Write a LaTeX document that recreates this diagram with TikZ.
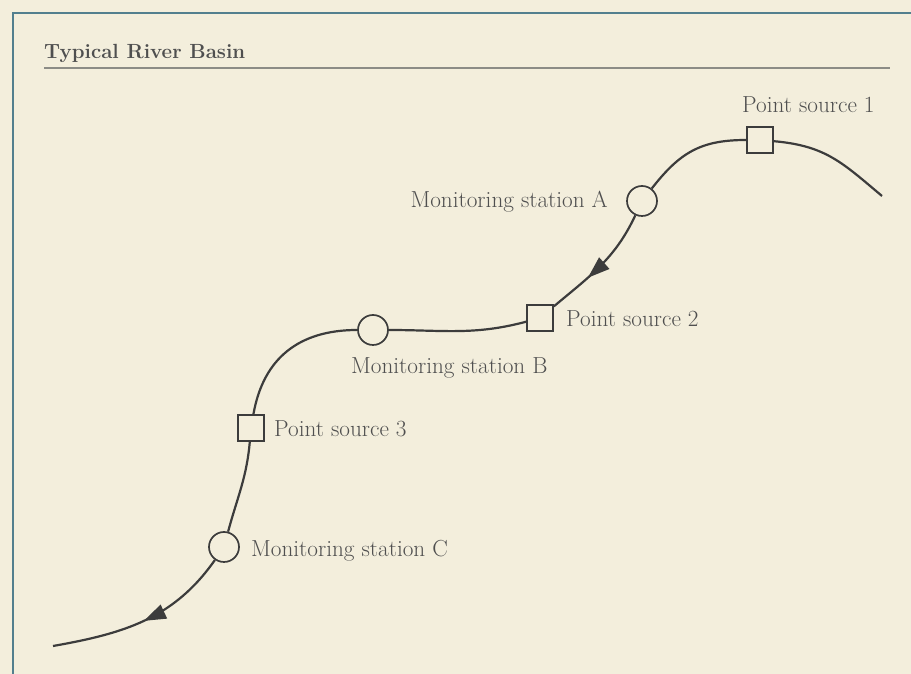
\documentclass[tikz,border=0pt]{standalone}
\usepackage{tikz}
\usetikzlibrary{arrows.meta,decorations.markings}

\definecolor{paper}{HTML}{F3EEDC}
\definecolor{ink}{HTML}{3C3C3C}
\definecolor{labelgray}{HTML}{4F4F4F}
\definecolor{frame}{HTML}{527F8E}
\definecolor{rulegray}{HTML}{8C8C86}

\begin{document}
\begin{tikzpicture}[x=1pt,y=1pt,
	source/.style={shape=rectangle,draw=ink,line width=1.7pt,minimum size=26pt,inner sep=0pt},
	station/.style={shape=circle,draw=ink,line width=1.7pt,minimum size=30pt,inner sep=0pt},
	lbl/.style={text=labelgray,inner sep=0pt,font=\fontsize{23.2}{27}\selectfont},
	river/.style={draw=ink,line width=2.2pt},
	flow/.style={postaction={decorate},decoration={markings,mark=at position #1 with {\arrow{Triangle[length=22pt,width=15pt]}}}}]

	\fill[paper] (0,0) rectangle (911,674);
	\useasboundingbox (0,0) rectangle (911,674);

	% frame and heading
	\draw[frame,line width=1.8pt] (13,0) |- (911,661);
	\node[anchor=base west,inner sep=0pt,text=labelgray,font=\fontsize{20.5}{24}\selectfont\bfseries] (title) at (44,615) {Typical River Basin};
	\coordinate (ruleL) at (44,606);
	\coordinate (ruleR) at (890,606);
	\draw[rulegray,line width=1.2pt] (ruleL) -- (ruleR);

	% points along the river
	\coordinate (up) at (882,478);
	\node[source]  (ps1) at (760,534) {};
	\node[station] (ma)  at (642,473) {};
	\node[source]  (ps2) at (540,356) {};
	\node[station] (mb)  at (373,344) {};
	\node[source]  (ps3) at (251,246) {};
	\node[station] (mc)  at (224,127) {};
	\coordinate (down) at (53,28);

	\node[lbl,anchor=base west] (lbl1) at (742,561) {Point source 1};
	\node[lbl,anchor=base east] (lblA) at (608,466) {Monitoring station A};
	\node[lbl,anchor=base west] (lbl2) at (566,347) {Point source 2};
	\node[lbl,anchor=base west] (lblB) at (351,300) {Monitoring station B};
	\node[lbl,anchor=base west] (lbl3) at (274,237) {Point source 3};
	\node[lbl,anchor=base west] (lblC) at (251,117) {Monitoring station C};

	% the river
	\draw[river] (up) to[out=140,in=-5,looseness=1.1] (ps1);
	\draw[river] (ps1) to[out=180,in=52,looseness=1.1] (ma);
	\draw[river,flow=0.64] (ma) to[out=245,in=40] (ps2);
	\draw[river] (ps2) to[out=195,in=0] (mb);
	\draw[river] (mb) to[out=180,in=80,looseness=1.1] (ps3);
	\draw[river] (ps3) to[out=265,in=75] (mc);
	\draw[river,flow=0.5] (mc) to[out=235,in=10] (down);

\end{tikzpicture}
\end{document}
